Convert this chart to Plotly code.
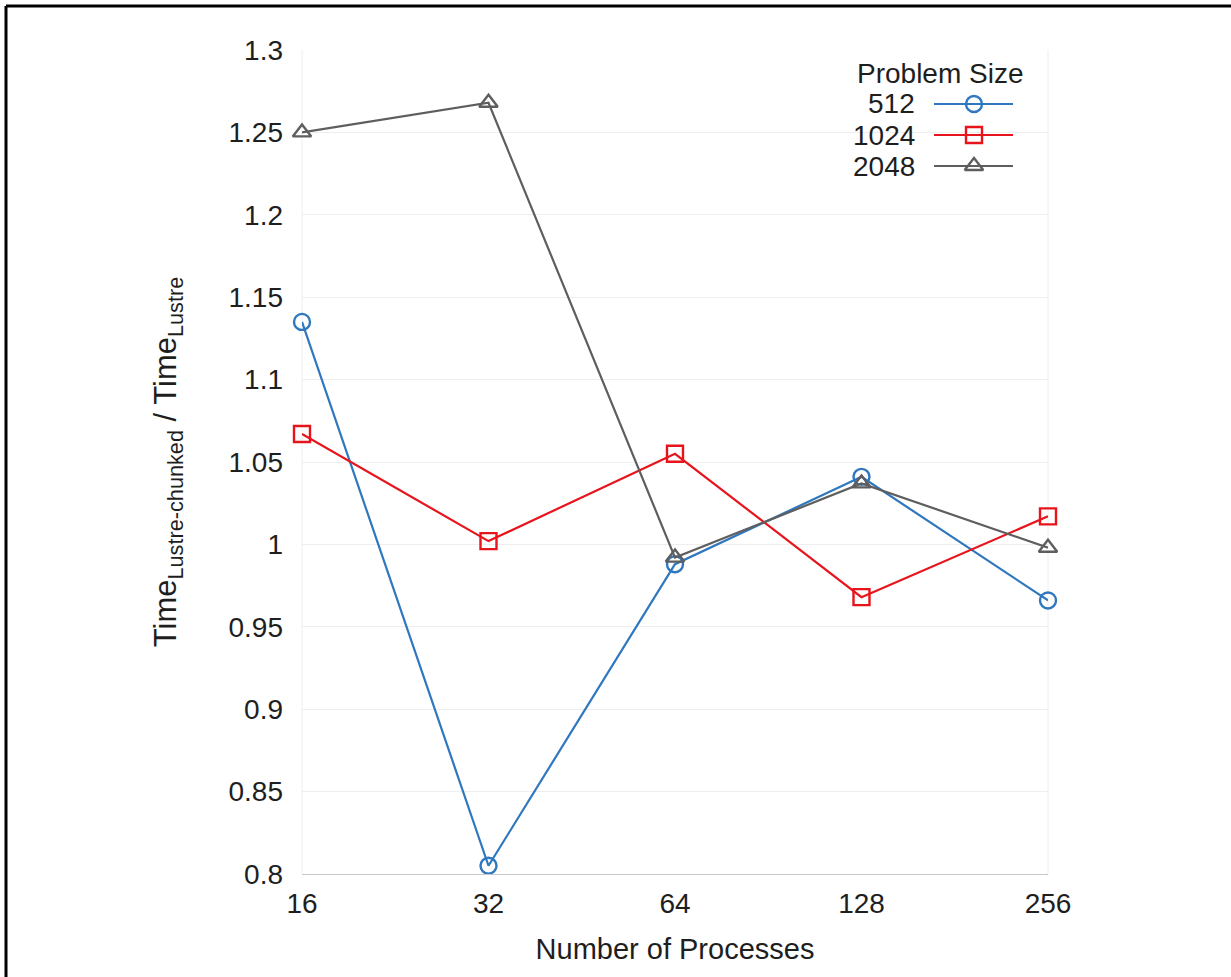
import plotly.graph_objects as go

processes = ["16", "32", "64", "128", "256"]
series_names = ["512", "1024", "2048"]
vals_512 = [1.135, 0.805, 0.988, 1.041, 0.966]
vals_1024 = [1.067, 1.002, 1.055, 0.968, 1.017]
vals_2048 = [1.250, 1.268, 0.992, 1.037, 0.998]
colors = ["#2f77be", "#e8141c", "#5e5e5e"]
symbols = ["circle-open", "square-open", "triangle-up-open"]

W, H = 1231, 977
L, R, T, B = 302, 183, 50, 103
pw, ph = W - L - R, H - T - B

def px_x(p):
    return (p - L) / pw

def px_y(p):
    return (H - B - p) / ph

FONT = "Liberation Sans, Arial, sans-serif"
TXT = "#1e1e1e"
fig = go.Figure()
for name, vals, c, s in zip(series_names, [vals_512, vals_1024, vals_2048], colors, symbols):
    fig.add_trace(go.Scatter(
        x=processes, y=vals, mode="lines+markers", name=name,
        line=dict(color=c, width=2.2),
        marker=dict(symbol=s, size=16, color=c, line=dict(width=2.4, color=c)),
        showlegend=False, cliponaxis=False,
    ))

# manual legend (text left of the symbol)
leg_y = [104, 135, 166]
for name, c, s, yy in zip(series_names, colors, symbols, leg_y):
    fig.add_trace(go.Scatter(
        x=[px_x(934), px_x(974), px_x(1013)], y=[px_y(yy)] * 3,
        mode="lines", line=dict(color=c, width=2.2),
        xaxis="x2", yaxis="y2", showlegend=False, hoverinfo="skip"))
    fig.add_trace(go.Scatter(
        x=[px_x(974)], y=[px_y(yy)], mode="markers",
        marker=dict(symbol=s, size=16, color=c, line=dict(width=2.4, color=c)),
        xaxis="x2", yaxis="y2", showlegend=False, hoverinfo="skip", cliponaxis=False))
    fig.add_annotation(x=px_x(917), y=px_y(yy), xref="paper", yref="paper",
                       text=name, showarrow=False, xanchor="right", yanchor="middle",
                       font=dict(size=28, color=TXT, family=FONT))
fig.add_annotation(x=px_x(940), y=px_y(73), xref="paper", yref="paper",
                   text="Problem Size", showarrow=False, xanchor="center", yanchor="middle",
                   font=dict(size=28, color=TXT, family=FONT))

# frame (left and top edges of the picture)
fig.add_shape(type="line", xref="paper", yref="paper",
              x0=px_x(6), x1=px_x(6), y0=px_y(6), y1=px_y(H + 20),
              line=dict(color="black", width=3))
fig.add_shape(type="line", xref="paper", yref="paper",
              x0=px_x(6), x1=px_x(W + 20), y0=px_y(6), y1=px_y(6),
              line=dict(color="black", width=3))
# faint plot edges
for xe in [0, 1]:
    fig.add_shape(type="line", xref="paper", yref="paper", x0=xe, x1=xe, y0=0, y1=1,
                  line=dict(color="#eeeeee", width=1), layer="below")

fig.update_layout(
    width=W, height=H, margin=dict(l=L, r=R, t=T, b=B),
    paper_bgcolor="white", plot_bgcolor="white",
    font=dict(family=FONT, size=28, color=TXT),
    xaxis=dict(type="category", range=[0, 4], showgrid=False, zeroline=False,
               showline=True, linecolor="#c8c8c8", linewidth=1, ticks="",
               tickfont=dict(size=28, color=TXT), ticklabelstandoff=4,
               title=dict(text="Number of Processes", font=dict(size=29, color=TXT), standoff=21)),
    yaxis=dict(range=[0.8, 1.3], dtick=0.05, tick0=0.8, showgrid=True, gridcolor="#eeeeee",
               zeroline=False, showline=False, ticks="",
               tickfont=dict(size=28, color=TXT), ticklabelstandoff=18,
               title=dict(text="Time<sub>Lustre-chunked</sub> / Time<sub>Lustre</sub>",
                          font=dict(size=31, color=TXT), standoff=42)),
    xaxis2=dict(overlaying="x", range=[0, 1], visible=False, fixedrange=True),
    yaxis2=dict(overlaying="y", range=[0, 1], visible=False, fixedrange=True),
)

fig.write_html("out.html", config={"displayModeBar": False},
               post_script="document.body.style.margin='0';")
